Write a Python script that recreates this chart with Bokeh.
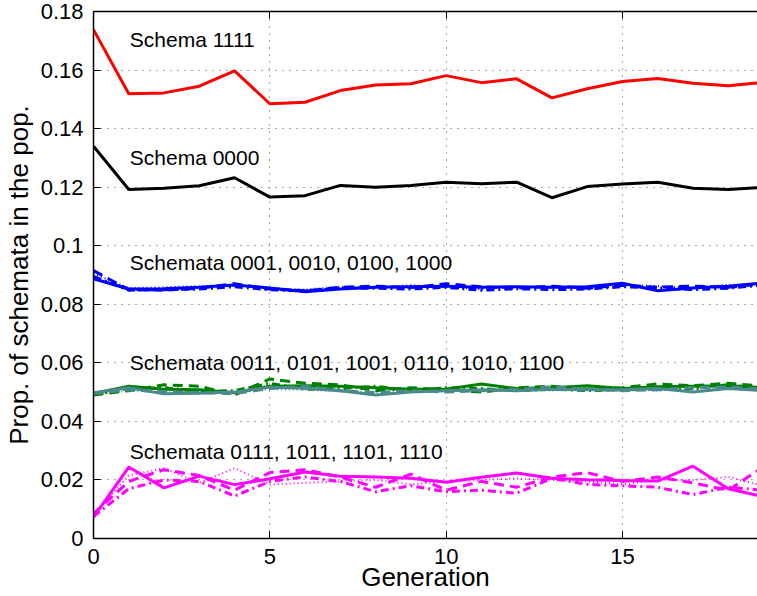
from bokeh.plotting import figure
from bokeh.models import Range1d, FixedTicker, LinearAxis, ColumnDataSource
from bokeh.core.properties import value
from bokeh.embed import file_html
from bokeh.resources import INLINE

generations = list(range(20))

schema_1111 = [0.1738, 0.1519, 0.1522, 0.1545, 0.1597, 0.1485, 0.1490, 0.1530, 0.1549, 0.1553,
               0.1581, 0.1557, 0.1570, 0.1505, 0.1536, 0.1561, 0.1571, 0.1555, 0.1546, 0.1558]
schema_0000 = [0.1340, 0.1192, 0.1196, 0.1205, 0.1232, 0.1166, 0.1171, 0.1206, 0.1200, 0.1206,
               0.1217, 0.1212, 0.1217, 0.1164, 0.1202, 0.1211, 0.1217, 0.1196, 0.1192, 0.1199]

one_bit_solid = [0.0887, 0.0852, 0.0853, 0.0858, 0.0866, 0.0856, 0.0843, 0.0852, 0.0858, 0.0860,
                 0.0862, 0.0858, 0.0860, 0.0858, 0.0860, 0.0872, 0.0846, 0.0856, 0.0862, 0.0873]
one_bit_dashed = [0.0915, 0.0850, 0.0848, 0.0855, 0.0870, 0.0852, 0.0846, 0.0858, 0.0862, 0.0857,
                  0.0870, 0.0860, 0.0855, 0.0862, 0.0855, 0.0865, 0.0858, 0.0862, 0.0858, 0.0870]
one_bit_dotted = [0.0905, 0.0855, 0.0858, 0.0862, 0.0865, 0.0855, 0.0850, 0.0860, 0.0858, 0.0865,
                  0.0858, 0.0852, 0.0860, 0.0855, 0.0862, 0.0866, 0.0862, 0.0858, 0.0866, 0.0868]
one_bit_dashdot = [0.0895, 0.0848, 0.0850, 0.0852, 0.0860, 0.0850, 0.0845, 0.0855, 0.0855, 0.0852,
                   0.0858, 0.0848, 0.0853, 0.0850, 0.0852, 0.0860, 0.0855, 0.0850, 0.0855, 0.0866]

two_bit_g_solid = [0.0495, 0.0520, 0.0510, 0.0508, 0.0498, 0.0520, 0.0522, 0.0520, 0.0515, 0.0510,
                   0.0510, 0.0528, 0.0512, 0.0515, 0.0522, 0.0512, 0.0518, 0.0520, 0.0522, 0.0515]
two_bit_g_dashed = [0.0490, 0.0505, 0.0525, 0.0520, 0.0490, 0.0545, 0.0530, 0.0525, 0.0505, 0.0515,
                    0.0508, 0.0500, 0.0515, 0.0520, 0.0510, 0.0515, 0.0528, 0.0522, 0.0530, 0.0520]
two_bit_g_dashdot = [0.0492, 0.0512, 0.0515, 0.0502, 0.0505, 0.0530, 0.0510, 0.0512, 0.0520, 0.0505,
                     0.0515, 0.0512, 0.0505, 0.0510, 0.0505, 0.0508, 0.0510, 0.0512, 0.0525, 0.0512]
two_bit_t_solid = [0.0498, 0.0515, 0.0494, 0.0496, 0.0500, 0.0517, 0.0513, 0.0505, 0.0490, 0.0500,
                   0.0505, 0.0508, 0.0505, 0.0510, 0.0508, 0.0508, 0.0512, 0.0500, 0.0512, 0.0505]
two_bit_t_dashed = [0.0495, 0.0508, 0.0502, 0.0498, 0.0495, 0.0512, 0.0520, 0.0505, 0.0498, 0.0505,
                    0.0500, 0.0505, 0.0510, 0.0518, 0.0510, 0.0505, 0.0508, 0.0515, 0.0518, 0.0510]
two_bit_t_dotted = [0.0490, 0.0505, 0.0498, 0.0505, 0.0498, 0.0510, 0.0508, 0.0502, 0.0500, 0.0508,
                    0.0512, 0.0502, 0.0508, 0.0505, 0.0512, 0.0510, 0.0505, 0.0510, 0.0515, 0.0508]

three_bit_solid = [0.0073, 0.0244, 0.0173, 0.0213, 0.0184, 0.0204, 0.0227, 0.0213, 0.0210, 0.0206,
                   0.0192, 0.0209, 0.0224, 0.0206, 0.0201, 0.0198, 0.0196, 0.0247, 0.0170, 0.0143]
three_bit_dashed = [0.0085, 0.0195, 0.0235, 0.0215, 0.0165, 0.0225, 0.0235, 0.0210, 0.0175, 0.0220,
                    0.0165, 0.0195, 0.0175, 0.0210, 0.0225, 0.0195, 0.0210, 0.0190, 0.0165, 0.0245]
three_bit_dashdot = [0.0075, 0.0170, 0.0200, 0.0195, 0.0145, 0.0195, 0.0210, 0.0195, 0.0160, 0.0180,
                     0.0160, 0.0165, 0.0155, 0.0205, 0.0185, 0.0180, 0.0175, 0.0150, 0.0175, 0.0165]
three_bit_dotted = [0.0080, 0.0215, 0.0240, 0.0190, 0.0240, 0.0185, 0.0190, 0.0195, 0.0200, 0.0185,
                    0.0195, 0.0200, 0.0205, 0.0200, 0.0195, 0.0185, 0.0200, 0.0200, 0.0210, 0.0180]

label_texts = ["Schema 1111", "Schema 0000", "Schemata 0001, 0010, 0100, 1000",
               "Schemata 0011, 0101, 1001, 0110, 1010, 1100", "Schemata 0111, 1011, 1101, 1110"]
label_x = [1.03, 1.03, 1.03, 1.03, 1.03]
label_y = [0.1704, 0.1300, 0.0944, 0.0600, 0.0298]

y_ticks = [0, 0.02, 0.04, 0.06, 0.08, 0.1, 0.12, 0.14, 0.16, 0.18]
y_tick_labels = ["0", "0.02", "0.04", "0.06", "0.08", "0.1", "0.12", "0.14", "0.16", "0.18"]
x_ticks = [0, 5, 10, 15]

FONT = "Liberation Sans"

p = figure(width=757, height=596, output_backend="svg", toolbar_location=None,
           x_range=Range1d(0, 18.83), y_range=Range1d(0, 0.18))
p.min_border_left = 92
p.min_border_right = 0
p.min_border_top = 11
p.min_border_bottom = 58
p.outline_line_color = None
p.background_fill_color = "white"
p.border_fill_color = "white"

p.xaxis.ticker = FixedTicker(ticks=x_ticks)
p.yaxis.ticker = FixedTicker(ticks=y_ticks)
p.yaxis.major_label_overrides = {t: s for t, s in zip(y_ticks, y_tick_labels)}
for ax in (p.xaxis[0], p.yaxis[0]):
    ax.major_tick_in = 7
    ax.major_tick_out = 0
    ax.minor_tick_in = 0
    ax.minor_tick_out = 0
    ax.axis_line_width = 1.5
    ax.axis_line_color = "black"
    ax.major_tick_line_color = "black"
    ax.major_label_text_font = FONT
    ax.major_label_text_font_size = "22px"
    ax.major_label_text_color = "black"
    ax.axis_label_text_font = FONT
    ax.axis_label_text_font_size = "26px"
    ax.axis_label_text_font_style = "normal"
    ax.axis_label_text_color = "black"

p.xaxis.axis_label = "Generation"
p.yaxis.axis_label = "Prop. of schemata in the pop."
p.xaxis.major_label_standoff = 10
p.xaxis.axis_label_standoff = -5
p.yaxis.major_label_standoff = 10
p.yaxis.axis_label_standoff = 4

top = LinearAxis(ticker=FixedTicker(ticks=x_ticks),
                 major_label_overrides={t: "" for t in x_ticks},
                 major_tick_in=7, major_tick_out=0, minor_tick_in=0, minor_tick_out=0,
                 major_label_standoff=0, axis_line_width=1.5)
p.add_layout(top, "above")

p.xgrid.ticker = FixedTicker(ticks=x_ticks)
p.ygrid.ticker = FixedTicker(ticks=y_ticks)
for g in (p.xgrid[0], p.ygrid[0]):
    g.grid_line_color = "#555555"
    g.grid_line_dash = "1 6"
    g.grid_line_width = 1

LW = 3
p.line(generations, schema_1111, line_color="#ff0000", line_width=LW)
p.line(generations, schema_0000, line_color="#000000", line_width=LW)

blue = "#0000ff"
p.line(generations, one_bit_dotted, line_color=blue, line_width=LW - 1, line_dash="1 3")
p.line(generations, one_bit_dashdot, line_color=blue, line_width=LW, line_dash="8 4 2 4")
p.line(generations, one_bit_dashed, line_color=blue, line_width=LW, line_dash="10 6")
p.line(generations, one_bit_solid, line_color=blue, line_width=LW)

green = "#008000"
teal = "#4a8a8c"
p.line(generations, two_bit_t_dotted, line_color=teal, line_width=LW - 1, line_dash="1 3")
p.line(generations, two_bit_g_dashdot, line_color=green, line_width=LW, line_dash="8 4 2 4")
p.line(generations, two_bit_g_dashed, line_color=green, line_width=LW, line_dash="10 6")
p.line(generations, two_bit_g_solid, line_color=green, line_width=LW)
p.line(generations, two_bit_t_dashed, line_color=teal, line_width=LW, line_dash="10 6")
p.line(generations, two_bit_t_solid, line_color=teal, line_width=LW)

mag = "#ff00ff"
p.line(generations, three_bit_dotted, line_color=mag, line_width=LW - 1, line_dash="1 3")
p.line(generations, three_bit_dashdot, line_color=mag, line_width=LW, line_dash="8 4 2 4")
p.line(generations, three_bit_dashed, line_color=mag, line_width=LW, line_dash="10 6")
p.line(generations, three_bit_solid, line_color=mag, line_width=LW)

src = ColumnDataSource(dict(x=label_x, y=label_y, t=label_texts))
p.text(x="x", y="y", text="t", source=src, text_font=value(FONT), text_font_size="21px",
       text_align="left", text_baseline="middle", text_color="black")

open("out.html", "w").write(file_html(p, INLINE))
